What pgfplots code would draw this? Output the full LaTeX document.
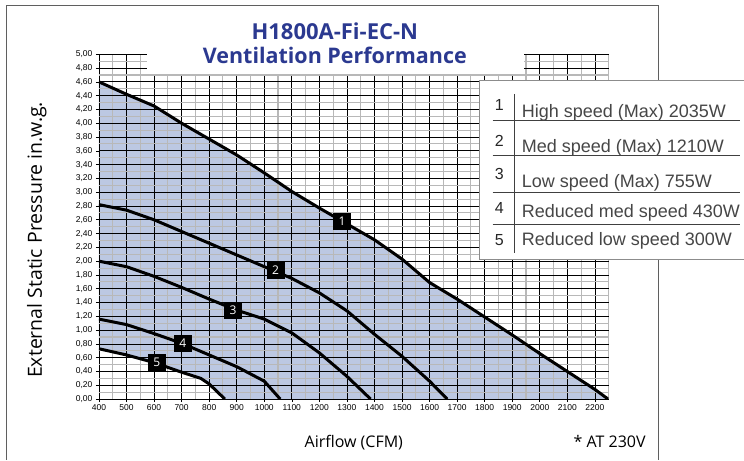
\documentclass[border=0pt]{standalone}
\usepackage{pgfplots}
\pgfplotsset{compat=1.18}
\usepackage{fontspec}
\setmainfont{Liberation Sans}
\newfontfamily\myriad{Open Sans}
\definecolor{fillblue}{RGB}{188,200,226}
\definecolor{titleblue}{RGB}{43,57,144}
\definecolor{framegray}{RGB}{95,95,95}
\definecolor{legtext}{RGB}{70,70,70}

\pgfplotsset{
  chartbox/.style={
    at={(99pt,-399.3pt)}, anchor=south west,
    scale only axis, width=510pt, height=345pt,
    xmin=400, xmax=2250, ymin=0, ymax=5,
  },
  curve/.style={black, line width=3pt, line join=round},
}
\tikzset{
  curvelabel/.style={fill=black, text=white, minimum width=18pt, minimum height=17pt,
    inner sep=0pt, font=\myriad\fontsize{12}{12}\selectfont},
}

\begin{document}
\begin{tikzpicture}
\fill[white] (0pt,0pt) rectangle (744pt,-460pt);
% outer frame
\draw[framegray, line width=1.3pt] (6.5pt,-460pt) -- (6.5pt,-5.5pt) -- (659pt,-5.5pt) -- (659pt,-460pt);

% background axis: shaded operating area between curve 1 and curve 5
\begin{axis}[chartbox, hide axis]
\addplot[fill=fillblue, draw=none] coordinates {
  (400,4.60) (500,4.42) (600,4.25) (700,4.00) (800,3.77) (900,3.54)
  (1000,3.28) (1100,3.00) (1200,2.77) (1300,2.54) (1400,2.31) (1500,2.03)
  (1600,1.69) (1700,1.45) (1800,1.19) (1900,0.93) (2000,0.66) (2100,0.40)
  (2200,0.14) (2248,0)
  (857,0) (800,0.22) (770,0.30) (700,0.39) (600,0.53) (500,0.64) (400,0.73)
} -- cycle;
\end{axis}

\begin{axis}[
  chartbox,
  axis line style={draw=none},
  xtick={400,500,...,2200},
  minor xtick={450,550,...,2250},
  ytick={0,0.2,0.4,0.6,0.8,1.0,1.2,1.4,1.6,1.8,2.0,2.2,2.4,2.6,2.8,3.0,3.2,3.4,3.6,3.8,4.0,4.2,4.4,4.6,4.8,5.0},
  minor ytick={0.1,0.3,0.5,0.7,0.9,1.1,1.3,1.5,1.7,1.9,2.1,2.3,2.5,2.7,2.9,3.1,3.3,3.5,3.7,3.9,4.1,4.3,4.5,4.7,4.9},
  grid=both,
  major grid style={black, line width=0.8pt},
  minor grid style={black!28, line width=1.1pt},
  tick pos=left, tick align=outside,
  major tick length=3pt, minor tick length=0pt,
  tick style={black, line width=0.6pt},
  /pgf/number format/assume math mode=true,
  ticklabel style={font=\fontsize{8.5}{9}\selectfont},
  x tick label style={/pgf/number format/1000 sep={}, yshift=1pt},
  y tick label style={/pgf/number format/.cd, fixed, fixed zerofill, precision=2, use comma},
]
% 1 High speed
\addplot[curve] coordinates {
  (400,4.60) (500,4.42) (600,4.25) (700,4.00) (800,3.77) (900,3.54)
  (1000,3.28) (1100,3.01) (1200,2.77) (1300,2.54) (1400,2.31) (1500,2.03)
  (1600,1.69) (1700,1.45) (1800,1.19) (1900,0.93) (2000,0.66) (2100,0.40)
  (2200,0.14) (2248,0)
};
% 2 Med speed
\addplot[curve] coordinates {
  (400,2.82) (500,2.74) (600,2.60) (700,2.43) (800,2.26) (900,2.09)
  (1000,1.92) (1100,1.75) (1200,1.54) (1300,1.28) (1400,0.94) (1500,0.62)
  (1600,0.26) (1664,0)
};
% 3 Low speed
\addplot[curve] coordinates {
  (400,2.00) (500,1.92) (600,1.78) (700,1.62) (800,1.45) (900,1.29)
  (1000,1.16) (1100,0.96) (1200,0.67) (1300,0.33) (1386,0)
};
% 4 Reduced med speed
\addplot[curve] coordinates {
  (400,1.16) (500,1.08) (600,0.95) (700,0.81) (800,0.64) (900,0.47)
  (1000,0.26) (1058,0)
};
% 5 Reduced low speed
\addplot[curve] coordinates {
  (400,0.73) (500,0.64) (600,0.53) (700,0.39) (770,0.30) (800,0.22) (857,0)
};

\node[curvelabel] at (axis cs:1282,2.58) {1};
\node[curvelabel] at (axis cs:1041,1.87) {2};
\node[curvelabel] at (axis cs:887,1.29) {3};
\node[curvelabel] at (axis cs:704,0.81) {4};
\node[curvelabel] at (axis cs:610,0.53) {5};
\end{axis}

% title area
\fill[white] (147pt,-40pt) rectangle (524pt,-74.5pt);
\node[anchor=base, inner sep=0pt, text=titleblue, font=\myriad\bfseries\fontsize{22}{24}\selectfont] at (335pt,-40pt) {H1800A-Fi-EC-N};
\node[anchor=base, inner sep=0pt, text=titleblue, font=\myriad\bfseries\fontsize{21.5}{24}\selectfont] at (335pt,-64pt) {Ventilation Performance};

% axis titles
\node[rotate=90, anchor=base, inner sep=0pt, font=\myriad\fontsize{19.5}{20}\selectfont] at (42pt,-240pt) {External Static Pressure in.w.g.};
\node[anchor=base, inner sep=0pt, font=\myriad\fontsize{16}{18}\selectfont] at (354pt,-448pt) {Airflow (CFM)};
\node[anchor=base, inner sep=0pt, font=\myriad\fontsize{16}{18}\selectfont] at (610pt,-448pt) {* AT 230V};

% legend (runs off the right edge like the reference)
\fill[white] (480pt,-80pt) rectangle (744pt,-260pt);
\draw[black!45, line width=0.8pt] (744pt,-80pt) -- (480pt,-80pt) -- (480pt,-260pt) -- (744pt,-260pt);
\draw[black!75, line width=0.6pt] (515pt,-94pt) -- (515pt,-253pt);
\foreach \yy in {120,155.5,192,224} {
  \draw[black!75, line width=0.6pt] (493pt,-\yy pt) -- (740pt,-\yy pt);
}
\node[anchor=base, inner sep=0pt, text=black!85, font=\fontsize{16}{16}\selectfont] at (499.5pt,-111pt) {1};
\node[anchor=base, inner sep=0pt, text=black!85, font=\fontsize{16}{16}\selectfont] at (499.5pt,-146.5pt) {2};
\node[anchor=base, inner sep=0pt, text=black!85, font=\fontsize{16}{16}\selectfont] at (499.5pt,-180pt) {3};
\node[anchor=base, inner sep=0pt, text=black!85, font=\fontsize{16}{16}\selectfont] at (499.5pt,-214pt) {4};
\node[anchor=base, inner sep=0pt, text=black!85, font=\fontsize{16}{16}\selectfont] at (499.5pt,-245.5pt) {5};
\node[anchor=base west, inner sep=0pt, text=legtext, font=\fontsize{18}{18}\selectfont] at (522pt,-117.3pt) {High speed (Max) 2035W};
\node[anchor=base west, inner sep=0pt, text=legtext, font=\fontsize{18}{18}\selectfont] at (522pt,-152.7pt) {Med speed (Max) 1210W};
\node[anchor=base west, inner sep=0pt, text=legtext, font=\fontsize{18}{18}\selectfont] at (522pt,-187.3pt) {Low speed (Max) 755W};
\node[anchor=base west, inner sep=0pt, text=legtext, font=\fontsize{18}{18}\selectfont] at (522pt,-217.3pt) {Reduced med speed 430W};
\node[anchor=base west, inner sep=0pt, text=legtext, font=\fontsize{18}{18}\selectfont] at (522pt,-246pt) {Reduced low speed 300W};

\useasboundingbox (0pt,0pt) rectangle (744pt,-460pt);
\end{tikzpicture}
\end{document}
